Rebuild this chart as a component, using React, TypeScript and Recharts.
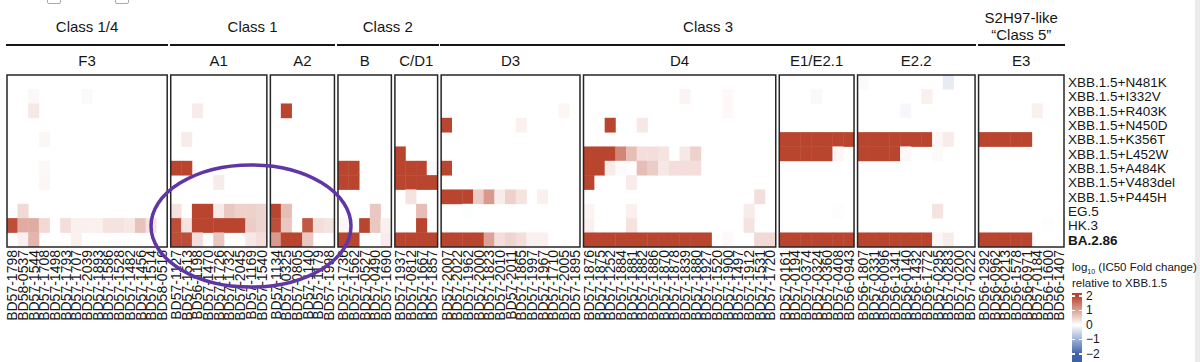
import { Scatter, ScatterChart, XAxis, YAxis } from "recharts";

const FONT = '"Liberation Sans", Arial, Helvetica, sans-serif';
const INK = "#161616";

const ROW_LABELS = [
  "XBB.1.5+N481K",
  "XBB.1.5+I332V",
  "XBB.1.5+R403K",
  "XBB.1.5+N450D",
  "XBB.1.5+K356T",
  "XBB.1.5+L452W",
  "XBB.1.5+A484K",
  "XBB.1.5+V483del",
  "XBB.1.5+P445H",
  "EG.5",
  "HK.3",
  "BA.2.86",
];

// antibody ids, one list per epitope group
const F3_IDS = ["BD57-1798", "BD58-0537", "BD57-1544", "BD57-1708", "BD57-1498", "BD57-1793", "BD57-1707", "BD57-2039", "BD57-1893", "BD57-1586", "BD57-1528", "BD57-1482", "BD57-1456", "BD57-1514", "BD58-0516"];
const A1_IDS = ["BD57-1127", "BD57-1513", "BD56-1198", "BD57-1470", "BD57-1726", "BD57-1732", "BD57-2045", "BD57-1169", "BD57-1540"];
const A2_IDS = ["BD57-1134", "BD57-0325", "BD57-0805", "BD57-1140", "BD57-1179", "BD57-1998"];
const B_IDS = ["BD57-1736", "BD57-1562", "BD57-0527", "BD57-0490", "BD57-1690"];
const CD1_IDS = ["BD57-1937", "BD57-0812", "BD57-1667", "BD57-1857"];
const D3_IDS = ["BD57-2007", "BD57-2022", "BD57-1962", "BD57-2000", "BD57-1823", "BD57-2010", "BD57-2011", "BD57-1865", "BD57-1997", "BD57-1967", "BD57-1710", "BD57-2005", "BD57-1895"];
const D4_IDS = ["BD57-1876", "BD57-1875", "BD57-1252", "BD57-1884", "BD57-1881", "BD57-1882", "BD57-1886", "BD57-1870", "BD57-1878", "BD57-1839", "BD57-1880", "BD57-1927", "BD57-1520", "BD57-1900", "BD57-1497", "BD57-1912", "BD57-1531", "BD57-1720"];
const E1_IDS = ["BD57-0161", "BD57-0194", "BD57-0374", "BD57-0324", "BD57-0360", "BD57-0408", "BD56-0943"];
const E22_IDS = ["BD56-1807", "BD57-0331", "BD56-0096", "BD56-1341", "BD56-0140", "BD56-1432", "BD56-1772", "BD57-0295", "BD57-0283", "BD57-0200", "BD57-0222"];
const E3_IDS = ["BD56-1292", "BD56-0962", "BD56-0213", "BD56-1578", "BD56-0971", "BD57-0184", "BD56-1600", "BD56-1407"];

// log10(IC50 fold change) vs XBB.1.5, rows follow ROW_LABELS (clipped at +-2)
const F3_VALUES = [
  [0, 0, 0, 0, 0, 0, 0, 0, 0, 0, 0, 0, 0, 0, 0],
  [0, 0, 0.08, 0, 0, 0, 0, -0.06, 0, 0, 0, 0, 0, 0, 0],
  [0, 0, 0.25, 0, 0, 0, 0, 0, 0, 0, 0, 0, 0, 0, 0],
  [0, 0, 0, 0, 0, 0, 0, 0, 0, 0, 0, 0, 0, 0, 0],
  [0, 0, 0, 0.1, 0, 0, 0, 0, 0, 0, 0, 0, 0, 0, 0],
  [0, 0, 0, 0, 0, 0, 0, 0, 0, 0, 0, 0, 0, 0, 0],
  [0, 0, 0, 0.08, 0, 0, 0, 0, 0, 0, 0, 0, 0, 0, 0],
  [0, 0, 0, 0.1, 0, 0, 0, 0, 0, 0, 0, 0, 0, 0, 0],
  [0, 0, 0, 0, 0, 0, 0, 0, 0, 0, 0, 0, 0, 0, 0],
  [0, 0.4, 0, 0, 0, 0, 0, 0, 0, 0, 0, 0, 0, 0, 0],
  [1.9, 0.9, 0.9, 0.4, 0, 0.35, 0.15, 0.15, 0.15, 0.3, 0.3, 0.25, 0.65, 0.3, 0],
  [0, 0.15, 0.8, 0, 0, 0, 0.15, 0, 0, 0, 0, 0, 0, 0, 0],
];
const A1_VALUES = [
  [0, 0, 0, 0, 0, 0, 0, 0, 0],
  [0, 0, 0, 0, 0, 0, 0, 0, 0],
  [0, 0, 0.2, 0, 0, 0, 0, 0, 0],
  [0, 0, 0, 0, 0, 0, 0, 0, 0],
  [0, 0.2, 0, 0, 0, 0, 0, 0, 0],
  [0, 0, 0, 0, 0, 0, 0, 0, 0],
  [2, 2, 0, 0, 0, 0, 0, 0, 0],
  [0, 0, 0, 0, 0.2, 0, 0, 0, 0],
  [0, 0, 0, 0, 0, 0, 0, 0, 0],
  [0.3, 0, 2, 2, 0.2, 0.6, 0.5, 0.5, 0.45],
  [1.9, 0.3, 2, 2, 2, 2, 2, 0.55, 0.45],
  [1.9, 1.9, 0.35, 0, 0.6, 0, 0, 0.25, 0.35],
];
const A2_VALUES = [
  [0, 0, 0, 0, 0, 0],
  [0, 0, 0, 0, 0, 0],
  [0, 2, 0, 0, 0, 0],
  [0, 0, 0, 0, 0, 0],
  [0, 0, 0, 0, 0, 0],
  [0, 0, 0, 0, 0, 0],
  [0, 0, 0, 0, 0, 0],
  [0, 0, 0, 0, 0, 0],
  [0, 0, 0, 0, 0, 0],
  [2, 0.7, 0, 0, 0, 0],
  [1.9, 0.6, 0, 1.8, 0.35, 0.3],
  [1.1, 2, 2, 0.6, 0, 0],
];
const B_VALUES = [
  [0, 0, 0, 0, 0],
  [0, 0, 0, 0, 0],
  [0, 0, 0, 0, 0],
  [0, 0, 0, 0, 0],
  [0, 0, 0, 0, 0],
  [0, 0, 0, 0, 0],
  [2, 2, 0, 0, 0],
  [2, 2, 0, 0, 0],
  [0, 0, 0, 0, 0],
  [0, 0, 0, 0.6, 0],
  [0.1, 0, 2, 0.6, 0.15],
  [2, 2, 0, 0, 0.2],
];
const CD1_VALUES = [
  [0, 0, 0, 0],
  [0, 0, 0, 0],
  [0, 0, 0, 0],
  [0, 0, 0, 0],
  [0, 0, 0, 0],
  [2, 0, 0, 0],
  [2, 2, 2, -0.08],
  [2, 2, 2, 2],
  [0, 0.3, 0, 0],
  [0, 0, 0.7, 0],
  [0, 0, 2, 0],
  [2, 2, 2, 2],
];
const D3_VALUES = [
  [0, 0, 0, 0, 0, 0, 0, 0, 0, 0, 0, 0, 0],
  [0, 0, 0, 0, 0, 0, 0, 0, 0, 0, 0, 0, 0],
  [0, 0, 0, 0, 0, 0, 0, 0, 0, 0, 0, 0.1, 0],
  [2, 0, 0, 0, 0, 0, 0, 0.15, 0, 0, 0, 0, 0],
  [0, 0, 0, 0, 0, 0, 0, 0, 0, 0, 0, 0, 0],
  [0, 0, 0, 0, 0, 0, 0, 0, 0, 0, 0, 0, 0],
  [2, 0, 0, 0, 0, 0, 0, 0, 0, 0, 0, 0, 0],
  [0, 0, 0, 0, 0, 0, 0, 0, 0, 0, 0, 0, 0],
  [2, 2, 2, 0.55, 1.1, 0.2, 0.5, 0.3, 0, 0.15, 0, 0, 0],
  [0, 0, -0.03, 0, 0, 0, 0, 0, 0, 0, 0, 0, 0],
  [0, 0, 0, 0, 0, 0, 0, 0, 0, 0, 0, 0, 0],
  [2, 2, 2, 2, 1.0, 0.35, 0.45, 0.35, 0.15, 0.15, 0, 0, 0],
];
const D4_VALUES = [
  [0, 0, 0, 0, 0, 0, 0, 0, 0, 0, 0, 0, 0, 0, 0, 0, 0, 0],
  [0, 0, 0, 0, 0, 0, 0, 0, 0, 0.12, 0, 0, 0, 0.06, 0, 0, 0, 0],
  [0, 0, 0, 0, 0, 0, 0, 0, 0, 0, 0, 0, 0, 0.06, 0, 0, 0, 0],
  [0, 0, 2, 0, 0, 0.25, 0, 0, 0, 0, 0, 0, 0, 0, 0, 0, 0, 0],
  [0, 0, 0, 0, 0, 0, 0, 0, 0, 0, 0, 0, 0, 0, 0, 0, 0, 0],
  [2, 2, 2, 1.3, 0.7, 0.35, 0.35, 0.3, 0, 0.25, 0.5, 0, 0, 0, 0, 0, 0, 0],
  [2, 2, 0.2, 0.05, 0, 0.7, 0.55, 0.25, 0.35, 0.35, 0.35, 0, 0, 0, 0, 0, 0, 0],
  [2, 0, 0, 0, 0.2, 0, 0, 0, 0, 0, 0, 0, 0, 0, 0, 0, 0, 0],
  [0, 0, 0, 0, 0, 0, 0, 0, 0, 0, 0, 0, 0, 0, 0, 0, 0.35, 0],
  [0.12, 0, 0, 0, 0.15, 0, 0, 0, 0, 0, 0, 0, 0, 0, 0, 0.2, 0, 0],
  [0.15, 0, 0, 0, 0.3, 0, 0, 0, 0, 0, 0, 0, 0, 0, 0, 0.3, 0, 0],
  [2, 2, 2, 2, 2, 2, 2, 2, 2, 2, 2, 2, 0, 0.06, 0, 0, 0.4, 0.4],
];
const E1_VALUES = [
  [0, 0, 0, 0, 0, 0, 0],
  [0, 0, 0, 0.08, 0, 0, 0],
  [0, 0, 0, 0, 0, 0, 0],
  [0, 0, 0, 0, 0, 0, 0],
  [2, 2, 2, 2, 2, 2, 2],
  [2, 2, 2, 2, 2, 0.1, 0],
  [0, 0, 0, 0, 0, 0, 0],
  [0, 0, 0, 0, 0, 0, 0],
  [0, 0, 0, 0, 0, 0, 0],
  [0, 0, 0, 0, 0, 0.02, 0],
  [0, 0, 0, 0, 0, 0, 0],
  [2, 2, 2, 2, 2, 2, 2],
];
const E22_VALUES = [
  [0.05, 0, 0, 0, 0, 0, 0, 0, -0.25, 0, 0],
  [0, 0, 0, 0, 0, 0, 0.15, 0, 0, 0, 0],
  [0, 0, 0, 0, -0.1, 0, 0, 0, 0, 0, 0],
  [0, 0, 0, 0, 0, 0, 0, 0, 0, 0, 0],
  [2, 2, 2, 2, 2, 2, 2, 0.1, 0.2, 0, 0],
  [2, 2, 2, 2, 0.08, 0, 0, 0.05, 0, 0, 0],
  [0, 0, 0, 0, 0, 0, 0, 0, 0, 0, 0],
  [0, 0, 0, 0, 0, 0, 0, 0, 0, 0, 0],
  [0, 0, 0, 0, 0, 0, 0, 0, 0, 0, 0],
  [0, 0, 0, 0, 0, 0, 0, 0.3, 0, 0, 0],
  [0, 0, 0, 0, 0, 0, 0, 0, 0, 0, 0],
  [2, 2, 2, 2, 2, 2, 2, 0.1, 0.2, 0, 0],
];
const E3_VALUES = [
  [0, 0, 0, 0, 0, 0, 0, 0],
  [0, 0, 0, 0, 0, 0, 0, 0],
  [0, 0, 0, 0, 0, 0.15, 0, 0],
  [0, 0, 0, 0, 0, 0, 0, 0],
  [2, 2, 2, 2, 2, 0, 0, 0],
  [0, 0, 0, 0, 0, 0, 0, 0],
  [0, 0, 0, 0, 0, 0, 0, 0],
  [0, 0, 0, 0, 0, 0, 0, 0],
  [0, 0, 0, 0, 0, 0, 0, 0],
  [0, 0, 0, 0, 0, 0, 0, 0],
  [0, 0, 0, 0, 0, 0, 0.02, 0],
  [2, 2, 2, 2, 2, 0, 0, 0],
];

const PANELS = [
  { name: "F3", ids: F3_IDS, values: F3_VALUES },
  { name: "A1", ids: A1_IDS, values: A1_VALUES },
  { name: "A2", ids: A2_IDS, values: A2_VALUES },
  { name: "B", ids: B_IDS, values: B_VALUES },
  { name: "C/D1", ids: CD1_IDS, values: CD1_VALUES },
  { name: "D3", ids: D3_IDS, values: D3_VALUES },
  { name: "D4", ids: D4_IDS, values: D4_VALUES },
  { name: "E1/E2.1", ids: E1_IDS, values: E1_VALUES },
  { name: "E2.2", ids: E22_IDS, values: E22_VALUES },
  { name: "E3", ids: E3_IDS, values: E3_VALUES },
];

const GROUPS = [
  { lines: ["Class 1/4"], from: "F3", to: "F3" },
  { lines: ["Class 1"], from: "A1", to: "A2" },
  { lines: ["Class 2"], from: "B", to: "C/D1" },
  { lines: ["Class 3"], from: "D3", to: "E2.2" },
  { lines: ["S2H97-like", "\u201cClass 5\u201d"], from: "E3", to: "E3" },
];

const LEGEND_TICKS = [2, 1, 0, -1, -2];

const W = 1200;
const H = 362;
const PLOT = { left: 7, top: 75, right: 1064, bottom: 247 };
const GAP = 0.33; // space between panels, in columns
const Y_AXIS_W = 130;
const X_AXIS_H = 110;

const RED = [185, 69, 47];
const BLUE = [62, 98, 170];

function cellColor(v: number): string {
  const t = Math.max(-1, Math.min(1, v / 2));
  const to = t >= 0 ? RED : BLUE;
  const a = Math.abs(t);
  const c = to.map((ch) => Math.round(255 + (ch - 255) * a));
  return `rgb(${c[0]}, ${c[1]}, ${c[2]})`;
}

let cursor = 0;
const layout = PANELS.map((p) => {
  const start = cursor;
  const end = start + p.ids.length;
  cursor = end + GAP;
  return { ...p, start, end };
});
const X_MAX = layout[layout.length - 1].end;
const N_ROWS = ROW_LABELS.length;
const CELL_W = (PLOT.right - PLOT.left) / X_MAX;
const CELL_H = (PLOT.bottom - PLOT.top) / N_ROWS;
const px = (u: number) => PLOT.left + u * CELL_W;

const cells = layout.flatMap((p) =>
  p.values.flatMap((row, r) => row.map((v, c) => ({ x: p.start + c + 0.5, y: N_ROWS - r - 0.5, v })))
);
const colTicks = layout.flatMap((p) => p.ids.map((id, c) => ({ at: p.start + c + 0.5, id })));
const rowTicks = ROW_LABELS.map((_, r) => N_ROWS - r - 0.5);

function HeatCell(props: any) {
  const { cx, cy, payload } = props;
  if (cx == null || cy == null || payload.v === 0) return null;
  return (
    <rect
      x={cx - CELL_W / 2 - 0.2}
      y={cy - CELL_H / 2 - 0.2}
      width={CELL_W + 0.4}
      height={CELL_H + 0.4}
      fill={cellColor(payload.v)}
    />
  );
}

function ColumnTick(props: any) {
  const { x, y, payload } = props;
  const t = colTicks.find((c) => Math.abs(c.at - payload.value) < 1e-6);
  return (
    <text
      x={x}
      y={y}
      transform={`rotate(-90 ${x} ${y})`}
      textAnchor="end"
      dy="0.36em"
      fontSize={14}
      fontFamily={FONT}
      fill={INK}
    >
      {t ? t.id : ""}
    </text>
  );
}

function RowTick(props: any) {
  const { x, y, payload } = props;
  const label = ROW_LABELS[Math.round(N_ROWS - 0.5 - payload.value)];
  return (
    <text
      x={x}
      y={y}
      dy="0.36em"
      textAnchor="start"
      fontSize={13.5}
      fontFamily={FONT}
      fontWeight={label === "BA.2.86" ? 700 : 400}
      fill={INK}
    >
      {label}
    </text>
  );
}

const LEG = { x: 1072, zeroY: 325, unit: 14.5, top: 293, bottom: 363 };

export default function App() {
  const legendStops = LEGEND_TICKS.map((v) => ({
    offset: ((LEG.zeroY - v * LEG.unit - LEG.top) / (LEG.bottom - LEG.top)) * 100,
    color: cellColor(v),
  }));
  const gradient = `linear-gradient(to bottom, ${legendStops.map((s) => `${s.color} ${s.offset}%`).join(", ")})`;

  return (
    <div
      style={{
        position: "absolute",
        left: 0,
        top: 0,
        width: W,
        height: H,
        background: "#fff",
        fontFamily: FONT,
        color: INK,
        overflow: "hidden",
      }}
    >
      {/* bits of UI cut off at the top of the screenshot */}
      <div style={{ position: "absolute", left: 47, top: -10, width: 12, height: 12, border: "1px solid #aaa", borderRadius: 2 }} />
      <div style={{ position: "absolute", left: 115, top: -10, width: 12, height: 12, border: "1px solid #aaa", borderRadius: 2 }} />
      <div style={{ position: "absolute", left: 1195, top: 0, width: 5, height: H, background: "#ebebeb" }} />

      {GROUPS.map((g) => {
        const a = layout.find((p) => p.name === g.from)!;
        const b = layout.find((p) => p.name === g.to)!;
        const x1 = px(a.start) - 1;
        const x2 = px(b.end) + 1;
        return (
          <div key={g.lines.join()}>
            <div
              style={{
                position: "absolute",
                left: x1,
                width: x2 - x1,
                top: g.lines.length > 1 ? 9 : 18,
                textAlign: "center",
                fontSize: 15,
                lineHeight: "17px",
              }}
            >
              {g.lines.map((l) => (
                <div key={l}>{l}</div>
              ))}
            </div>
            <div style={{ position: "absolute", left: x1, width: x2 - x1, top: 44, height: 2, background: INK }} />
          </div>
        );
      })}

      {layout.map((p) => (
        <div
          key={p.name}
          style={{
            position: "absolute",
            left: px(p.start),
            width: px(p.end) - px(p.start),
            top: 52,
            textAlign: "center",
            fontSize: 15,
            lineHeight: "17px",
          }}
        >
          {p.name}
        </div>
      ))}

      <div style={{ position: "absolute", left: 0, top: 0 }}>
        <ScatterChart
          width={W}
          height={H}
          margin={{
            top: PLOT.top,
            left: PLOT.left,
            right: W - PLOT.right - Y_AXIS_W,
            bottom: H - PLOT.bottom - X_AXIS_H,
          }}
        >
          <XAxis
            type="number"
            dataKey="x"
            domain={[0, X_MAX]}
            ticks={colTicks.map((t) => t.at)}
            interval={0}
            tick={<ColumnTick />}
            tickLine={false}
            axisLine={false}
            tickSize={0}
            tickMargin={3}
            height={X_AXIS_H}
            allowDataOverflow
          />
          <YAxis
            type="number"
            dataKey="y"
            orientation="right"
            domain={[0, N_ROWS]}
            ticks={rowTicks}
            interval={0}
            tick={<RowTick />}
            tickLine={false}
            axisLine={false}
            tickSize={0}
            tickMargin={4}
            width={Y_AXIS_W}
            allowDataOverflow
          />
          <Scatter data={cells} shape={<HeatCell />} isAnimationActive={false} />
        </ScatterChart>
      </div>

      {/* panel frames and the hand-drawn highlight from the source figure */}
      <svg width={W} height={H} style={{ position: "absolute", left: 0, top: 0, pointerEvents: "none" }}>
        {layout.map((p) => (
          <rect
            key={p.name}
            x={px(p.start)}
            y={PLOT.top}
            width={px(p.end) - px(p.start)}
            height={PLOT.bottom - PLOT.top}
            fill="none"
            stroke="#262626"
            strokeWidth={1.5}
          />
        ))}
        <ellipse cx={251} cy={226} rx={100} ry={61} fill="none" stroke="#6035a6" strokeWidth={3.5} />
      </svg>

      {/* colour key */}
      <div style={{ position: "absolute", left: LEG.x, top: 260, fontSize: 11.5, lineHeight: "15px", whiteSpace: "nowrap" }}>
        <div>
          log<span style={{ fontSize: 7, position: "relative", top: 3 }}>10</span> (IC50 Fold change)
        </div>
        <div>relative to XBB.1.5</div>
      </div>
      <div
        style={{
          position: "absolute",
          left: LEG.x,
          top: LEG.top,
          width: 10,
          height: LEG.bottom - LEG.top,
          background: gradient,
        }}
      />
      {LEGEND_TICKS.map((v) => {
        const y = LEG.zeroY - v * LEG.unit;
        return (
          <div key={v}>
            <div style={{ position: "absolute", left: LEG.x, top: y - 0.75, width: 3, height: 1.5, background: "#fff" }} />
            <div style={{ position: "absolute", left: LEG.x + 7, top: y - 0.75, width: 3, height: 1.5, background: "#fff" }} />
            <div style={{ position: "absolute", left: LEG.x + 14, top: y - 7.5, fontSize: 12, lineHeight: "15px" }}>
              {v < 0 ? `\u2212${Math.abs(v)}` : v}
            </div>
          </div>
        );
      })}
    </div>
  );
}
